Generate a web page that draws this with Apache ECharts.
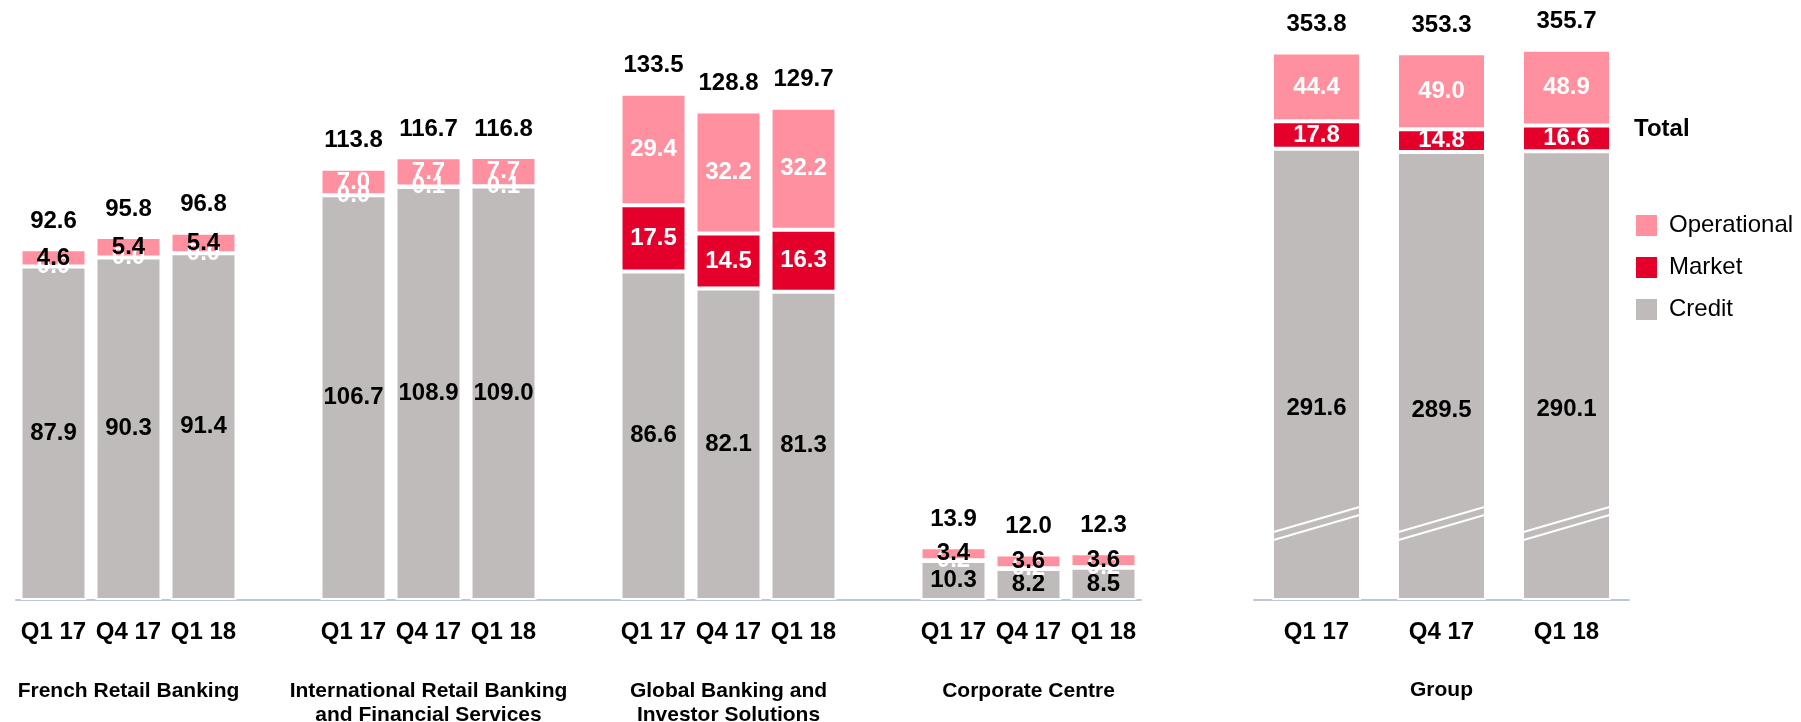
<!DOCTYPE html>
<html>
<head>
<meta charset="utf-8">
<script src="https://cdn.jsdelivr.net/npm/echarts@6/dist/echarts.min.js"></script>
<style>
  html, body { margin: 0; padding: 0; background: #fff; }
  #main { width: 1801px; height: 722px; }
</style>
</head>
<body>
<div id="main"></div>
<script>
// data
var quarters = ['Q1 17', 'Q4 17', 'Q1 18'];
var segments = ['French Retail Banking', 'International Retail Banking\nand Financial Services', 'Global Banking and\nInvestor Solutions', 'Corporate Centre'];
var credit = [87.9, 90.3, 91.4, 106.7, 108.9, 109.0, 86.6, 82.1, 81.3, 10.3, 8.2, 8.5];
var market = [0.0, 0.0, 0.0, 0.0, 0.1, 0.1, 17.5, 14.5, 16.3, 0.2, 0.2, 0.2];
var operational = [4.6, 5.4, 5.4, 7.0, 7.7, 7.7, 29.4, 32.2, 32.2, 3.4, 3.6, 3.6];
var totals = [92.6, 95.8, 96.8, 113.8, 116.7, 116.8, 133.5, 128.8, 129.7, 13.9, 12.0, 12.3];

var groupName = 'Group';
var groupCredit = [291.6, 289.5, 290.1];
var groupMarket = [17.8, 14.8, 16.6];
var groupOperational = [44.4, 49.0, 48.9];
var groupTotals = [353.8, 353.3, 355.7];
var breakAt = 44;

var colOp = '#FF909F', colMarket = '#E4002B', colCredit = '#BFBBBA';
var font = 'Liberation Sans, Arial, sans-serif';

// build the slot layout: 3 quarters per segment, one empty slot between segments
var slots = [], nameSlots = [], idx = [];
segments.forEach(function (s, si) {
  quarters.forEach(function (q, qi) {
    slots.push(q);
    nameSlots.push(qi === 1 ? s : '');
    idx.push(si * 3 + qi);
  });
  if (si < segments.length - 1) {
    slots.push('');
    nameSlots.push('');
    idx.push(-1);
  }
});

function spread(arr, fn) {
  return idx.map(function (i) {
    if (i < 0) return '-';
    return fn ? fn(arr[i]) : arr[i];
  });
}

var valueLabel = {
  show: true,
  position: 'inside',
  fontFamily: font,
  fontWeight: 'bold',
  fontSize: 24,
  formatter: function (p) { return p.value.toFixed(1); }
};

var chart = echarts.init(document.getElementById('main'));

chart.setOption({
  backgroundColor: '#fff',
  animation: false,
  title: {
    text: 'Total',
    left: 1634,
    top: 117,
    padding: 0,
    textStyle: { fontFamily: font, fontWeight: 'bold', fontSize: 24, color: '#000' }
  },
  legend: {
    data: ['Operational', 'Market', 'Credit'],
    orient: 'vertical',
    left: 1634,
    top: 213,
    padding: 0,
    itemWidth: 23,
    itemHeight: 23,
    itemGap: 17,
    icon: 'rect',
    textStyle: { fontFamily: font, fontSize: 24, color: '#000', padding: [0, 0, 0, 6] }
  },
  grid: [
    { left: 16, width: 1125, top: 69, height: 531, outerBoundsMode: 'none', containLabel: false },
    { left: 1254, width: 375, top: 43, height: 557, outerBoundsMode: 'none', containLabel: false }
  ],
  xAxis: [
    {
      type: 'category', gridIndex: 0, data: slots, position: 'bottom',
      axisLine: { lineStyle: { color: '#BCC6D4', width: 2 } },
      axisTick: { show: false },
      axisLabel: { interval: 0, margin: 20, fontFamily: font, fontWeight: 'bold', fontSize: 24, color: '#000' }
    },
    {
      type: 'category', gridIndex: 0, data: nameSlots, position: 'bottom', offset: 0,
      axisLine: { show: false }, axisTick: { show: false },
      axisLabel: { interval: 0, margin: 79, fontFamily: font, fontWeight: 'bold', fontSize: 21, lineHeight: 24, color: '#000' }
    },
    {
      type: 'category', gridIndex: 1, data: quarters, position: 'bottom',
      axisLine: { lineStyle: { color: '#BCC6D4', width: 2 } },
      axisTick: { show: false },
      axisLabel: { interval: 0, margin: 20, fontFamily: font, fontWeight: 'bold', fontSize: 24, color: '#000' }
    },
    {
      type: 'category', gridIndex: 1, data: ['', groupName, ''], position: 'bottom', offset: 0,
      axisLine: { show: false }, axisTick: { show: false },
      axisLabel: { interval: 0, margin: 80, fontFamily: font, fontWeight: 'bold', fontSize: 21, color: '#000' }
    }
  ],
  yAxis: [
    { type: 'value', gridIndex: 0, min: 0, max: 140, show: false },
    { type: 'value', gridIndex: 1, min: 0, max: 360, show: false }
  ],
  series: [
    {
      name: 'Credit', type: 'bar', stack: 'seg', xAxisIndex: 0, yAxisIndex: 0, barWidth: 66,
      data: spread(credit),
      itemStyle: { color: colCredit, borderColor: '#fff', borderWidth: 2 },
      label: Object.assign({}, valueLabel, { color: '#000' })
    },
    {
      name: 'Market', type: 'bar', stack: 'seg', xAxisIndex: 0, yAxisIndex: 0, barWidth: 66,
      data: spread(market),
      itemStyle: { color: colMarket, borderColor: '#fff', borderWidth: 2 },
      label: Object.assign({}, valueLabel, { color: '#fff' })
    },
    {
      name: 'Operational', type: 'bar', stack: 'seg', xAxisIndex: 0, yAxisIndex: 0, barWidth: 66,
      data: spread(operational, function (v) {
        return { value: v, label: { color: v < 6 ? '#000' : '#fff' } };
      }),
      itemStyle: { color: colOp, borderColor: '#fff', borderWidth: 2 },
      label: Object.assign({}, valueLabel)
    },
    {
      name: 'total', type: 'bar', stack: 'seg', xAxisIndex: 0, yAxisIndex: 0, barWidth: 66,
      data: spread(totals, function () { return 0; }),
      itemStyle: { color: 'transparent' },
      label: {
        show: true, position: 'top', distance: 16, color: '#000',
        fontFamily: font, fontWeight: 'bold', fontSize: 24,
        formatter: function (p) { return totals[idx[p.dataIndex]].toFixed(1); }
      }
    },
    {
      name: 'Credit', type: 'bar', stack: 'grp', xAxisIndex: 2, yAxisIndex: 1, barWidth: 89,
      data: groupCredit,
      itemStyle: { color: colCredit, borderColor: '#fff', borderWidth: 2 },
      label: Object.assign({}, valueLabel, { color: '#000', offset: [0, 34] })
    },
    {
      name: 'Market', type: 'bar', stack: 'grp', xAxisIndex: 2, yAxisIndex: 1, barWidth: 89,
      data: groupMarket,
      itemStyle: { color: colMarket, borderColor: '#fff', borderWidth: 2 },
      label: Object.assign({}, valueLabel, { color: '#fff' })
    },
    {
      name: 'Operational', type: 'bar', stack: 'grp', xAxisIndex: 2, yAxisIndex: 1, barWidth: 89,
      data: groupOperational,
      itemStyle: { color: colOp, borderColor: '#fff', borderWidth: 2 },
      label: Object.assign({}, valueLabel, { color: '#fff' })
    },
    {
      name: 'total', type: 'bar', stack: 'grp', xAxisIndex: 2, yAxisIndex: 1, barWidth: 89,
      data: groupTotals.map(function () { return 0; }),
      itemStyle: { color: 'transparent' },
      label: {
        show: true, position: 'top', distance: 16, color: '#000',
        fontFamily: font, fontWeight: 'bold', fontSize: 24,
        formatter: function (p) { return groupTotals[p.dataIndex].toFixed(1); }
      }
    },
    {
      // axis break marks on the group bars
      name: 'break', type: 'custom', xAxisIndex: 2, yAxisIndex: 1, z: 5,
      data: quarters.map(function (q, i) { return [i, breakAt]; }),
      renderItem: function (params, api) {
        var p = api.coord([api.value(0), api.value(1)]);
        var half = 43, rise = 25, gap = 8;
        var style = { stroke: '#fff', lineWidth: 2 };
        return {
          type: 'group',
          children: [
            { type: 'line', shape: { x1: p[0] - half, y1: p[1], x2: p[0] + half, y2: p[1] - rise }, style: style },
            { type: 'line', shape: { x1: p[0] - half, y1: p[1] + gap, x2: p[0] + half, y2: p[1] + gap - rise }, style: style }
          ]
        };
      }
    }
  ]
});
</script>
</body>
</html>
